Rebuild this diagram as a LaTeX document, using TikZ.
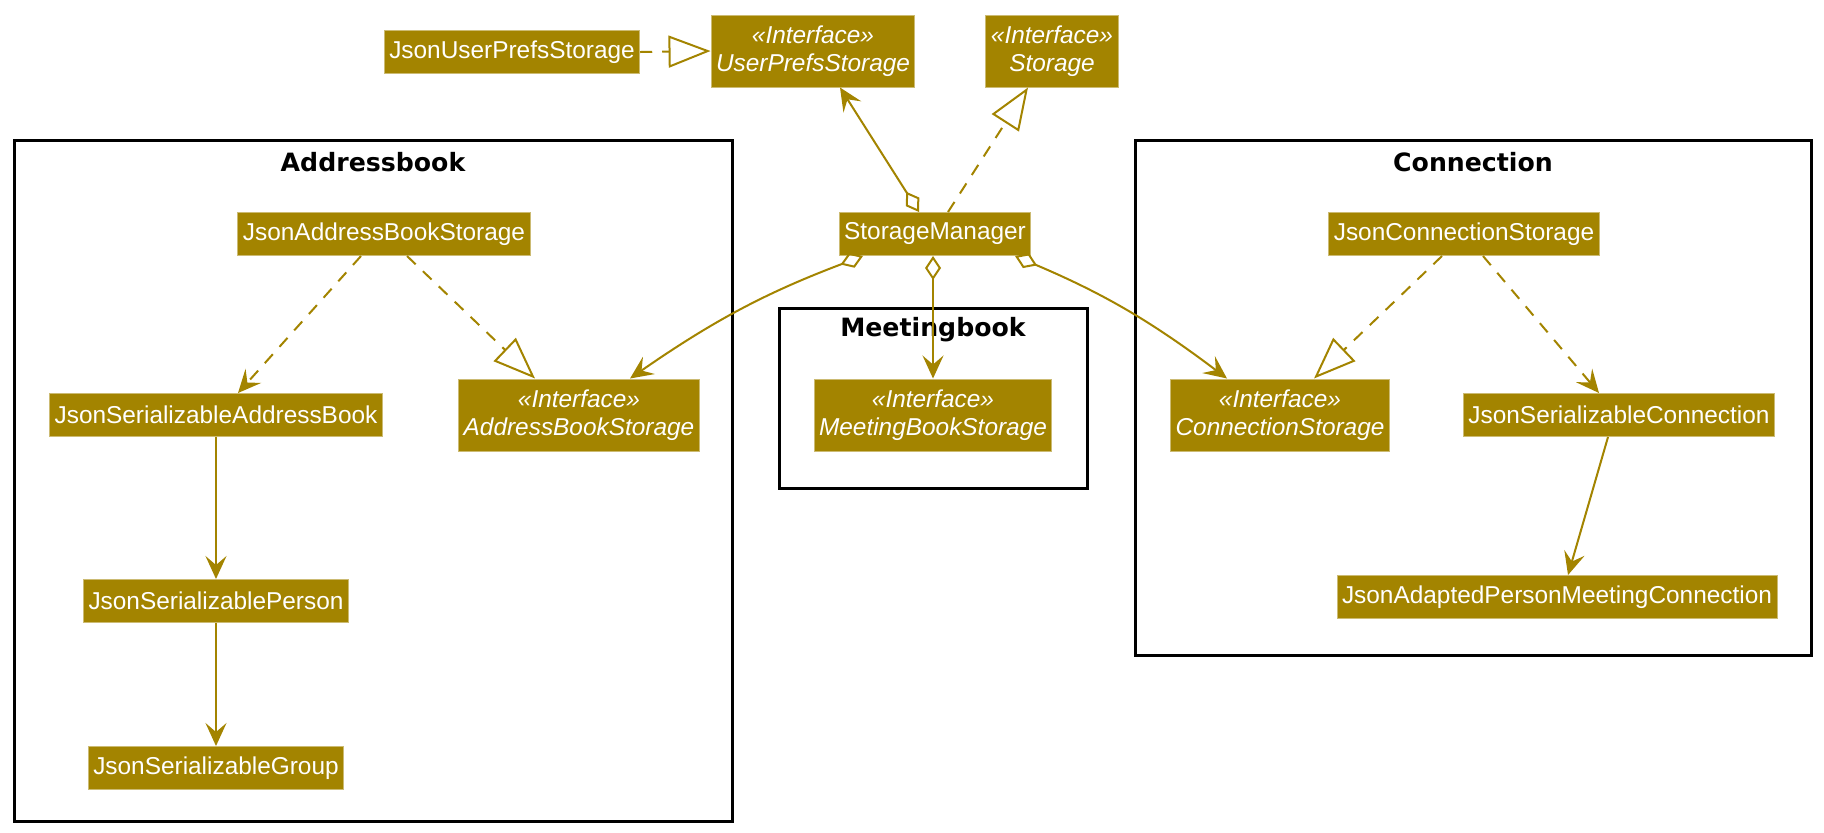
\documentclass[tikz,border=0pt]{standalone}
\usepackage{fontspec}
\setmainfont{Liberation Sans}
\newfontfamily\titlefont{DejaVu Sans}
\usetikzlibrary{arrows.meta,calc}
\definecolor{umlgold}{RGB}{163,132,0}
\tikzset{
  classbox/.style={fill=umlgold, draw=umlgold!55!white, line width=0.5pt, text=white,
    font=\fontsize{12.2}{14}\selectfont, inner xsep=2.5pt, inner ysep=0pt, minimum height=21.5pt},
  ifacebox/.style={classbox, align=center, font=\fontsize{12.2}{14}\selectfont\itshape, minimum height=36pt},
  pkgframe/.style={draw=black, line width=1.5pt},
  pkgtitle/.style={font=\fontsize{12.6}{14}\titlefont\bfseries},
  link/.style={draw=umlgold, line width=1pt},
  dep/.style={link, dash pattern=on 6pt off 5pt},
  uses/.style={link, -{Stealth[length=11.5pt,width=10.5pt,inset=4.5pt]}},
  usesdep/.style={dep, -{Stealth[length=11.5pt,width=10.5pt,inset=4.5pt]}},
  realize/.style={dep, -{Triangle[open,length=21pt,width=16pt]}},
  aggr/.style={link, {Diamond[open,length=12pt,width=8pt]}-{Stealth[length=11.5pt,width=10.5pt,inset=4.5pt]}}
}

\begin{document}
\begin{tikzpicture}[x=0.5pt,y=-0.5pt]
		%%%%% START %%%%%
		\useasboundingbox (0,0) rectangle (1824,832);
		
		% packages
		\draw[pkgframe] (14,140) rectangle (732,821);
		\node[pkgtitle] (abtitle) at (373,162) {Addressbook};
		\draw[pkgframe] (779,308) rectangle (1087,488);
		\node[pkgtitle] (mbtitle) at (933,330) {Meetingbook};
		\draw[pkgframe] (1135,140) rectangle (1811,655);
		\node[pkgtitle] (cntitle) at (1473,162) {Connection};
		
		% top row
		\node[classbox] (jups) at (512,52) {JsonUserPrefsStorage};
		\node[ifacebox] (ups) at (813,51) {«Interface»\\UserPrefsStorage};
		\node[ifacebox] (stor) at (1052,51) {«Interface»\\Storage};
		\node[classbox] (sm) at (935,234) {StorageManager};
		
		% addressbook
		\node[classbox] (jabs) at (384,234) {JsonAddressBookStorage};
		\node[classbox] (jsab) at (216,415) {JsonSerializableAddressBook};
		\node[ifacebox] (abs) at (579,415) {«Interface»\\AddressBookStorage};
		\node[classbox] (jsp) at (216,601) {JsonSerializablePerson};
		\node[classbox] (jsg) at (216,768) {JsonSerializableGroup};
		
		% meetingbook
		\node[ifacebox] (mbs) at (933,415) {«Interface»\\MeetingBookStorage};
		
		% connection
		\node[classbox] (jcs) at (1464,234) {JsonConnectionStorage};
		\node[ifacebox] (cs) at (1280,415) {«Interface»\\ConnectionStorage};
		\node[classbox] (jsc) at (1619,415) {JsonSerializableConnection};
		\node[classbox] (japmc) at (1557,597) {JsonAdaptedPersonMeetingConnection};
		
		% links
		\draw[realize] (jups.east) -- (ups.west);
		\draw[aggr] ($(sm.north)+(-16,0)$) -- ($(ups.south)+(27,0)$);
		\draw[realize] ($(sm.north)+(13,0)$) -- ($(stor.south)+(-24,0)$);
		\draw[aggr] ($(sm.south)+(-72,0)$) to[bend right=7] ($(abs.north)+(51,0)$);
		\draw[aggr] (sm.south -| mbs.north) -- (mbs.north);
		\draw[aggr] ($(sm.south)+(80,0)$) to[bend left=7] ($(cs.north)+(-53,0)$);
		
		\draw[usesdep] ($(jabs.south)+(-23,0)$) -- ($(jsab.north)+(22,0)$);
		\draw[realize] ($(jabs.south)+(23,0)$) -- ($(abs.north)+(-44,0)$);
		\draw[uses] (jsab.south) -- (jsp.north);
		\draw[uses] (jsp.south) -- (jsg.north);
		
		\draw[realize] ($(jcs.south)+(-22,0)$) -- ($(cs.north)+(34,0)$);
		\draw[usesdep] ($(jcs.south)+(19,0)$) -- ($(jsc.north)+(-20,0)$);
		\draw[uses] ($(jsc.south)+(-11,0)$) -- ($(japmc.north)+(11,0)$);
		
		%%%%% END %%%%%
	\end{tikzpicture}
\end{document}
